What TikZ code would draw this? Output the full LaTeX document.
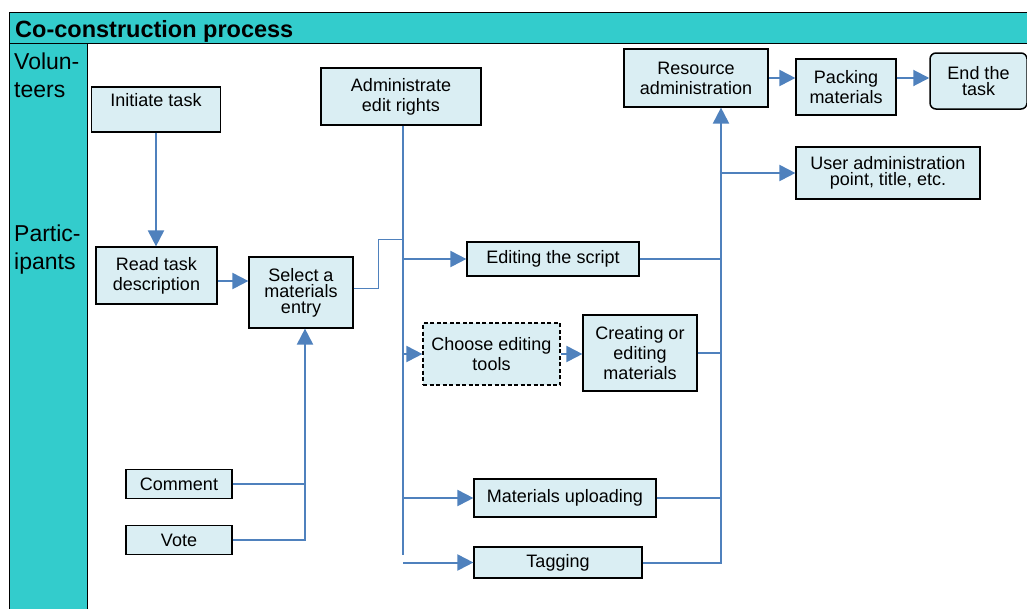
\documentclass[tikz,border=0pt]{standalone}
\usepackage{fontspec}
\setmainfont{Liberation Sans}
\usetikzlibrary{arrows.meta}

\definecolor{laneteal}{HTML}{33CCCC}
\definecolor{boxfill}{HTML}{DAEEF3}
\definecolor{flowblue}{HTML}{4F81BD}

\begin{document}
\begin{tikzpicture}
    [x=1pt,y=-1pt,
     b/.style={draw,line width=1.2pt,fill=boxfill,inner sep=0pt,align=center,
               font=\fontsize{18}{20}\selectfont},
     bt/.style={b,font=\fontsize{18}{16}\selectfont},
     f/.style={draw=flowblue,line width=2pt},
     fa/.style={f,-{Triangle[length=16pt,width=16pt]}}]
    \useasboundingbox (0,0) rectangle (1027,608);
    % lanes
    \fill[laneteal] (9,12) rectangle (1035,43);
    \fill[laneteal] (9,43) rectangle (87,615);
    \draw[line width=1pt] (1035,12) -- (9,12) -- (9,615)
                          (9,43) -- (1035,43)
                          (87,43) -- (87,615);
    \node[anchor=base west,inner sep=0pt,font=\bfseries\fontsize{23.5}{26}\selectfont]
        (title) at (15,37) {Co-construction process};
    \node[anchor=north west,inner sep=0pt,align=left,font=\fontsize{23}{28}\selectfont]
        (vol) at (14,53) {Volun-\\teers};
    \node[anchor=north west,inner sep=0pt,align=left,font=\fontsize{23}{28}\selectfont]
        (part) at (14,225) {Partic-\\ipants};
    % boxes
    \node[b,minimum width=129pt,minimum height=45pt,text depth=20pt] (init) at (156,109.5) {Initiate task};
    \node[b,minimum width=121pt,minimum height=57pt] (read) at (156.5,275.5) {Read task\\description};
    \node[bt,minimum width=104pt,minimum height=71pt] (sel) at (301,292.5) {Select a\\materials\\entry};
    \node[b,minimum width=160pt,minimum height=57pt] (adm) at (401,96.5) {Administrate\\edit rights};
    \node[b,minimum width=144pt,minimum height=58pt] (res) at (696,78) {Resource\\administration};
    \node[b,minimum width=100pt,minimum height=56pt] (pack) at (846,87) {Packing\\materials};
    \node[bt,rounded corners=6pt,line width=1.5pt,minimum width=97pt,minimum height=56pt] (endt) at (978.5,81) {End the\\task};
    \node[bt,minimum width=184pt,minimum height=52pt] (user) at (888,173) {User administration\\point, title, etc.};
    \node[b,minimum width=172pt,minimum height=34pt] (edit) at (553,259) {Editing the script};
    \node[b,dash pattern=on 4pt off 2.5pt,minimum width=137pt,minimum height=62pt] (choose) at (491.5,354) {Choose editing\\tools};
    \node[b,minimum width=114pt,minimum height=76pt] (creat) at (640,353) {Creating or\\editing\\materials};
    \node[b,minimum width=182pt,minimum height=38pt] (upl) at (565,498) {Materials uploading};
    \node[b,minimum width=168pt,minimum height=31pt] (tag) at (558,562.5) {Tagging};
    \node[b,minimum width=106pt,minimum height=29pt] (comm) at (179,484) {Comment};
    \node[b,minimum width=106pt,minimum height=29pt] (vote) at (179,540) {Vote};
    % junction points
    \coordinate (busend) at (403,555);
    \coordinate (jog) at (378,239);
    \coordinate (col) at (721,0);
    \coordinate (cv) at (305,0);
    % connectors
    \draw[fa] (init.south) -- (init.south |- read.north);
    \draw[fa] ([yshift=-5.5pt]read.east) -- ([yshift=-5.5pt]read.east -| sel.west);
    \draw[f,line width=1pt] ([yshift=4.5pt]sel.east) -| (jog) -- (jog -| busend);
    \draw[f] (adm.south -| busend) -- (busend);
    \draw[fa] (edit.west -| busend) -- (edit.west);
    \draw[fa] (choose.west -| busend) -- (choose.west);
    \draw[fa] (choose.east) -- (choose.east -| creat.west);
    \draw[fa] (upl.west -| busend) -- (upl.west);
    \draw[fa] (tag.west -| busend) -- (tag.west);
    \draw[f] (edit.east) -- (edit.east -| col);
    \draw[f] (creat.east) -- (creat.east -| col);
    \draw[f] (upl.east) -- (upl.east -| col);
    \draw[fa] (tag.east) -- (tag.east -| col) -- (col |- res.south);
    \draw[fa] (user.west -| col) -- (user.west);
    \draw[fa] (res.east) -- (res.east -| pack.west);
    \draw[fa] (pack.east |- res.east) -- (res.east -| endt.west);
    \draw[f] (comm.east) -- (comm.east -| cv);
    \draw[fa] (vote.east) -- (vote.east -| cv) -- (cv |- sel.south);
\end{tikzpicture}
\end{document}
